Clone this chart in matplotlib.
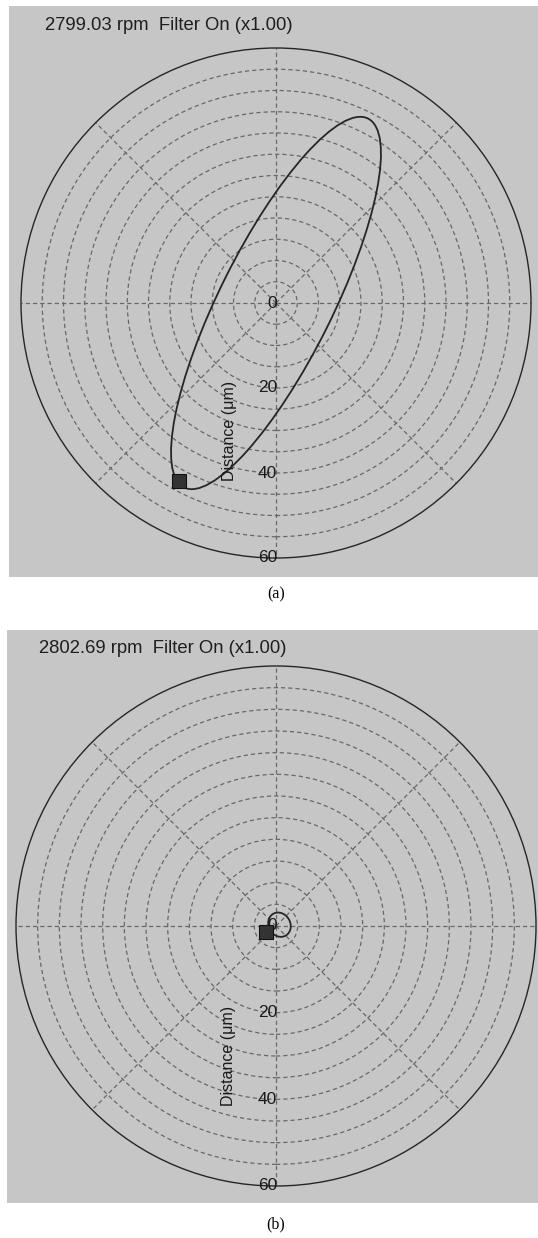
import matplotlib
matplotlib.use('Agg')
import matplotlib.pyplot as plt
from matplotlib.patches import Circle, Ellipse
import numpy as np

# values
titles = ['2799.03 rpm  Filter On (x1.00)', '2802.69 rpm  Filter On (x1.00)']
captions = ['(a)', '(b)']
ring_radii = [5, 10, 15, 20, 25, 30, 35, 40, 45, 50, 55]
outer_radius = 60
tick_values = [0, 20, 40, 60]
spoke_angles = [0, 45, 90, 135, 180, 225, 270, 315]

# orbit ellipses (centre x, centre y in um, width, height, angle deg)
orbit_a = [0.0, 0.0, 97.0, 26.6, 63.5]
orbit_b = [0.8, 0.3, 5.0, 5.8, 30.0]
# start markers (x, y in um)
marker_a = [-22.8, -41.9]
marker_b = [-2.2, -1.4]

W, H = 538, 1238
BOX = '#c6c6c6'
RING = '#686868'
DARK = '#262626'

fig = plt.figure(figsize=(W / 100, H / 100), dpi=100)
fig.patch.set_facecolor('white')


def make_panel(box, centre_px, radius_px, title, title_pos, orbit, marker):
    # box = (left, top, right, bottom) in pixels
    left, top, right, bottom = box
    ax = fig.add_axes([left / W, 1 - bottom / H, (right - left) / W, (bottom - top) / H])
    ax.set_facecolor(BOX)
    scale = radius_px / outer_radius   # px per um
    cx = centre_px[0] - left
    cy = centre_px[1] - top
    ax.set_xlim(-cx / scale, (right - left - cx) / scale)
    ax.set_ylim(-(bottom - top - cy) / scale, cy / scale)
    ax.set_xticks([])
    ax.set_yticks([])
    for s in ax.spines.values():
        s.set_visible(False)

    # dashed rings
    for r in ring_radii:
        ax.add_patch(Circle((0, 0), r, fill=False, ec=RING, lw=0.9,
                            ls=(0, (3.4, 2.4)), zorder=1))
    # outer circle
    ax.add_patch(Circle((0, 0), outer_radius, fill=False, ec=DARK, lw=1.0, zorder=2))

    # spokes
    for a in spoke_angles:
        t = np.deg2rad(a)
        ax.plot([0, outer_radius * np.cos(t)], [0, outer_radius * np.sin(t)],
                color=RING, lw=0.9, ls=(0, (3.4, 2.4)), zorder=1)

    # distance labels down the vertical axis
    for v in tick_values:
        ax.text(0.3, -v, str(v), ha='right', va='center', fontsize=12.5,
                color='#1a1a1a', family='Liberation Sans', zorder=4)
    ax.text(-11, -30, 'Distance (μm)', rotation=90, ha='center', va='center',
            fontsize=11.5, color='#1a1a1a', family='Liberation Sans', zorder=4)

    # orbit
    ax.add_patch(Ellipse((orbit[0], orbit[1]), orbit[2], orbit[3], angle=orbit[4],
                         fill=False, ec=DARK, lw=1.3, zorder=3))
    ax.plot(marker[0], marker[1], marker='s', ms=9.5, mfc='#333333', mec='#111111',
            mew=0.8, zorder=5)

    ax.text(title_pos[0], title_pos[1], title, transform=ax.transAxes,
            ha='left', va='center', fontsize=13.3, color='#1e1e1e',
            family='Liberation Sans')
    return ax


make_panel((9, 6, 538, 577), (276, 303), 255, titles[0], (0.068, 0.966), orbit_a, marker_a)
make_panel((7, 630, 538, 1203), (276, 926), 260, titles[1], (0.061, 0.968), orbit_b, marker_b)

fig.text(276 / W, 1 - 594 / H, captions[0], ha='center', va='center', fontsize=11.5,
         family='Liberation Serif')
fig.text(276 / W, 1 - 1224 / H, captions[1], ha='center', va='center', fontsize=11.5,
         family='Liberation Serif')

fig.savefig('out.png', dpi=100, facecolor='white')
